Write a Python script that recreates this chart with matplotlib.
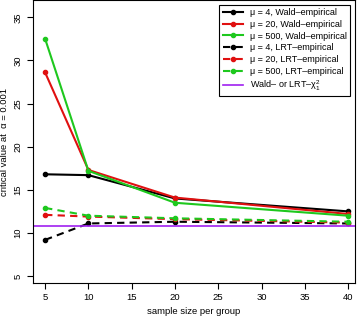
import matplotlib
matplotlib.use("Agg")
from matplotlib import pyplot as plt

n = [5, 10, 20, 40]

# Wald-empirical critical values
wald_mu4 = [16.8, 16.7, 14.0, 12.5]
wald_mu20 = [28.6, 17.3, 14.1, 12.2]
wald_mu500 = [32.5, 17.2, 13.5, 12.0]

# LRT-empirical critical values
lrt_mu4 = [9.2, 11.1, 11.3, 11.1]
lrt_mu20 = [12.1, 11.9, 11.6, 11.2]
lrt_mu500 = [12.9, 12.0, 11.7, 11.3]

chi2_crit = 10.83

black = "#000000"
red = "#E01010"
green = "#1EC81E"
purple = "#A020F0"

plt.rcParams["font.family"] = ["Liberation Sans", "DejaVu Sans"]
plt.rcParams["font.size"] = 6.8
plt.rcParams["mathtext.fontset"] = "custom"
plt.rcParams["mathtext.rm"] = "Liberation Sans"
plt.rcParams["mathtext.it"] = "Liberation Sans"

fig = plt.figure(figsize=(3.57, 3.23), dpi=100)
ax = fig.add_axes([33 / 357, 40 / 323, 322 / 357, 283 / 323])

series = [
    (wald_mu4, black, "-", "\u03bc = 4, Wald\u2013empirical"),
    (wald_mu20, red, "-", "\u03bc = 20, Wald\u2013empirical"),
    (wald_mu500, green, "-", "\u03bc = 500, Wald\u2013empirical"),
    (lrt_mu4, black, "--", "\u03bc = 4, LRT\u2013empirical"),
    (lrt_mu20, red, "--", "\u03bc = 20, LRT\u2013empirical"),
    (lrt_mu500, green, "--", "\u03bc = 500, LRT\u2013empirical"),
]
for vals, col, ls, lab in series:
    ax.plot(n, vals, color=col, linestyle=ls, linewidth=1.5, marker="o",
            markersize=3, label=lab, dashes=(3.5, 2.5) if ls == "--" else (None, None))

ax.axhline(chi2_crit, color=purple, linewidth=1.2,
           label="Wald\u2013 or LRT\u2013\u03c7$^2_1$")

ax.set_xlim(3.6, 40.8)
ax.set_ylim(4.2, 37.0)
ax.set_xticks([5, 10, 15, 20, 25, 30, 35, 40])
ax.set_yticks([5, 10, 15, 20, 25, 30, 35])
for lab in ax.get_yticklabels():
    lab.set_rotation(90)
    lab.set_va("center")
ax.tick_params(direction="out", length=4.5, width=0.8, pad=3)
ax.set_xlabel("sample size per group", labelpad=3)
ax.set_ylabel("critical value at  \u03b1 = 0.001", labelpad=3)
for s in ax.spines.values():
    s.set_linewidth(0.8)

leg = ax.legend(loc="upper right", bbox_to_anchor=(1.0, 1.0), frameon=True,
                fancybox=False, edgecolor="black", framealpha=1,
                handlelength=2.2, borderpad=0.4, labelspacing=0.3,
                fontsize=6.5)
leg.get_frame().set_linewidth(0.8)

fig.savefig("out.png", dpi=100)
